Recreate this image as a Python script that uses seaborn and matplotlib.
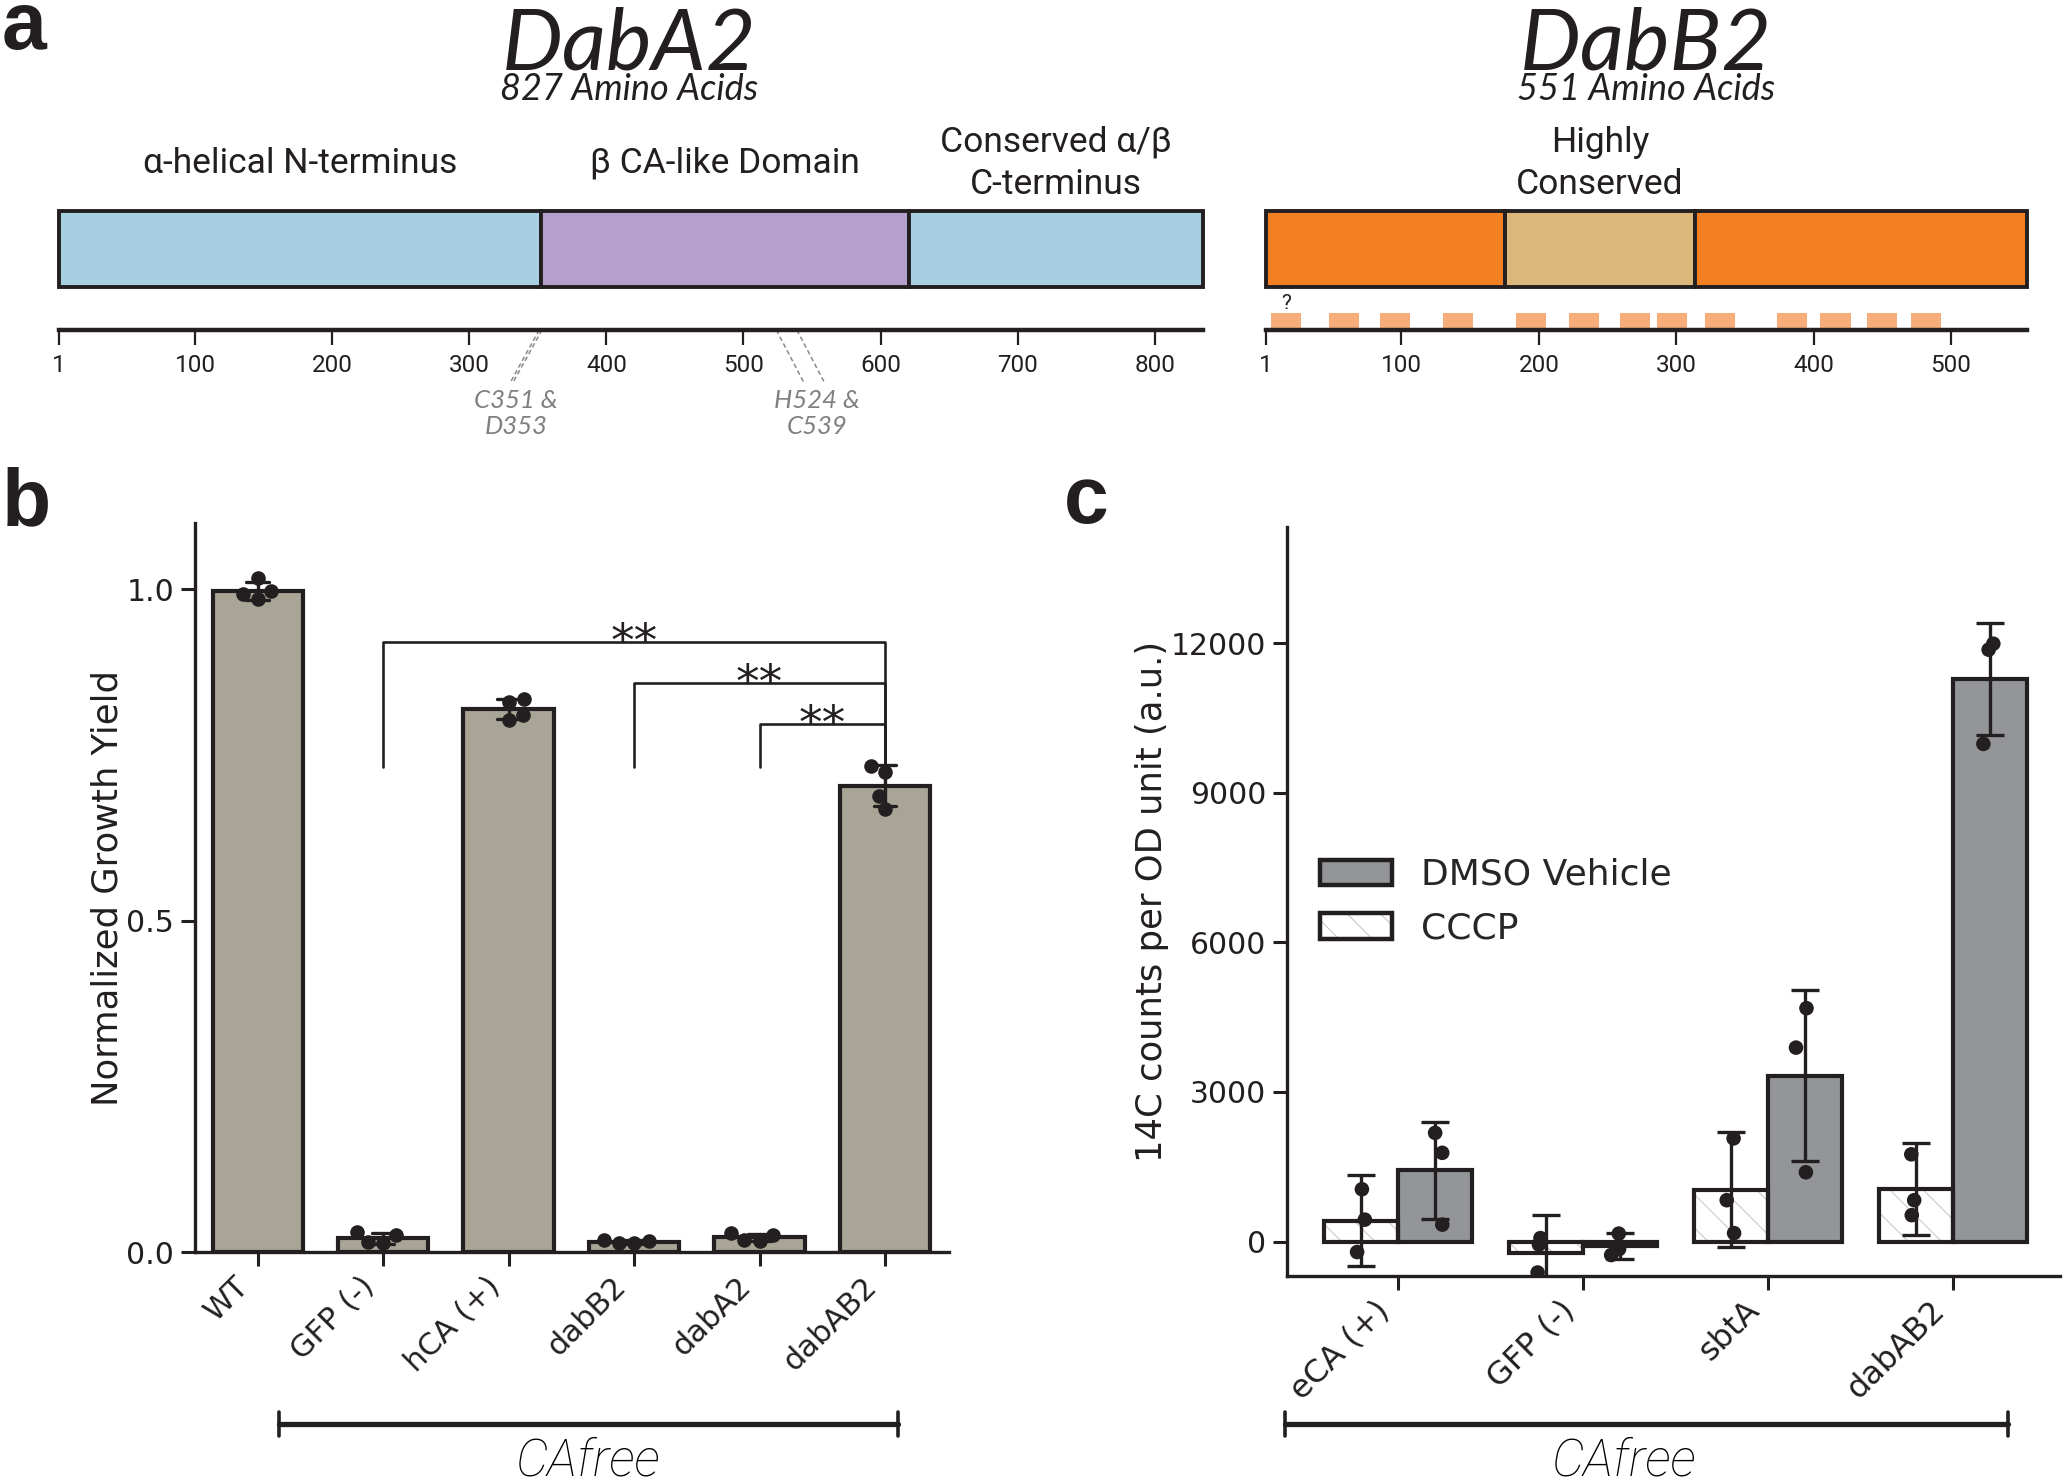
import numpy as np
import pandas as pd
import matplotlib
matplotlib.use('Agg')
import matplotlib.pyplot as plt
import matplotlib.transforms as mtransforms
import seaborn as sns
from matplotlib.lines import Line2D
from matplotlib.patches import Patch, Rectangle

sns.set_style('ticks')
plt.rcParams['font.family'] = ['DejaVu Sans']
plt.rcParams['hatch.linewidth'] = 0.8

DARK = '#231f20'
THIN = ['Roboto', 'DejaVu Sans']
ITAL = ['Lato', 'DejaVu Sans']
ARIAL = ['Liberation Sans', 'DejaVu Sans']

# ---------------- panel a: domain maps ----------------
dabA2_bounds = [1, 352, 621, 835]
dabA2_colors = ['#a7cfe1', '#b4a0cb', '#a7cfe1']
dabA2_labels = ['α-helical N-terminus', 'β CA-like Domain', 'Conserved α/β\nC-terminus']
dabA2_ticks = [1, 100, 200, 300, 400, 500, 600, 700, 800]
dabA2_sites = [[351, 353], [524, 539]]
dabA2_site_labels = ['C351 &\nD353', 'H524 &\nC539']

dabB2_bounds = [1, 175, 314, 555]
dabB2_colors = ['#f27f22', '#dbb77c', '#f27f22']
dabB2_labels = ['', 'Highly\nConserved', '']
dabB2_ticks = [1, 100, 200, 300, 400, 500]
dabB2_tm_starts = [5, 47, 84, 130, 183, 222, 259, 286, 321, 373, 405, 439, 471]
dabB2_tm_width = 22

# ---------------- panel b: growth yield ----------------
strains_b = ['WT', 'GFP (-)', 'hCA (+)', 'dabB2', 'dabA2', 'dabAB2']
yield_reps = [
    [1.017, 0.997, 0.993, 0.985],
    [0.030, 0.015, 0.013, 0.026],
    [0.835, 0.830, 0.810, 0.803],
    [0.018, 0.013, 0.013, 0.016],
    [0.018, 0.016, 0.026, 0.028],
    [0.733, 0.725, 0.688, 0.668],
]
sig_from = [1, 3, 4]
sig_to = [5, 5, 5]
sig_height = [0.920, 0.858, 0.797]
sig_base = 0.732

# ---------------- panel c: 14C uptake ----------------
strains_c = ['eCA (+)', 'GFP (-)', 'sbtA', 'dabAB2']
cccp_mean = [420, -230, 1040, 1050]
cccp_sd = [910, 770, 1150, 920]
dmso_mean = [1430, -85, 3330, 11280]
dmso_sd = [975, 260, 1715, 1130]
cccp_pts = [[1050, 440, -210], [-60, 70, -620], [2070, 830, 170], [1750, 830, 530]]
dmso_pts = [[2180, 1780, 340], [160, -270, -150], [4680, 3890, 1390], [11990, 11870, 9980]]

W, H = 2067, 1481
fig = plt.figure(figsize=(W / 100, H / 100), dpi=100)


def box(l, t, r, b):
    return [l / W, 1 - b / H, (r - l) / W, (b - t) / H]


def fx(px):
    return px / W


def fy(py):
    return 1 - py / H


def domain_map(ax, bounds, colors, labels, ticks):
    starts = bounds[:-1]
    widths = np.diff(bounds)
    ax.barh(3.6, widths, height=6.4, left=starts, align='edge', color=colors,
            edgecolor=DARK, linewidth=2.8, clip_on=False, zorder=3)
    for s, w, lab in zip(starts, widths, labels):
        ax.text(s + w / 2, 14.0, lab, ha='center', va='center', fontsize=25.5,
                family=THIN, linespacing=1.35, color=DARK)
    ax.set_xlim(bounds[0], bounds[-1])
    ax.set_ylim(0, 10)
    ax.set_xticks(ticks)
    ax.set_xticklabels([str(t) for t in ticks], family=THIN)
    ax.set_yticks([])
    for s in ['top', 'left', 'right']:
        ax.spines[s].set_visible(False)
    ax.spines['bottom'].set_linewidth(3.2)
    ax.spines['bottom'].set_color(DARK)
    ax.tick_params(axis='x', direction='out', length=11, width=1.6, labelsize=17.5,
                   pad=6, colors=DARK)
    ax.patch.set_alpha(0)


# panel a left
axA = fig.add_axes(box(59.3, 211, 59.3 + 834 * 1.371, 330))
domain_map(axA, dabA2_bounds, dabA2_colors, dabA2_labels, dabA2_ticks)
site_dx = [-21, 20]
label_dx = [-18, 22]
for sites, lab, dx, ldx in zip(dabA2_sites, dabA2_site_labels, site_dx, label_dx):
    for p in sites:
        axA.plot([p, p + dx], [0, -4.4], ls=(0, (3, 2)), color='#8a8a8a', lw=1.1, clip_on=False)
    axA.text(np.mean(sites) + ldx, -7.05, lab, ha='center', va='center', fontsize=18.5,
             style='italic', family=ITAL, color='#808080', linespacing=1.15)

# panel a right
axB = fig.add_axes(box(1265.5, 211, 1265.5 + 554 * 1.3737, 330))
domain_map(axB, dabB2_bounds, dabB2_colors, dabB2_labels, dabB2_ticks)
axB.barh(0.17, [dabB2_tm_width] * len(dabB2_tm_starts), height=1.26, left=dabB2_tm_starts,
         align='edge', color='#f7ad79', linewidth=0, zorder=1)
axB.text(dabB2_tm_starts[0] + dabB2_tm_width / 2, 2.2, '?', ha='center', va='center',
         fontsize=15, family=THIN, color=DARK)

for x, name, aa in [(629, 'DabA2', '827 Amino Acids'), (1646, 'DabB2', '551 Amino Acids')]:
    fig.text(fx(x), fy(69), name, ha='center', va='baseline', fontsize=62, style='italic',
             family=ITAL, color=DARK)
    fig.text(fx(x), fy(100), aa, ha='center', va='baseline', fontsize=26, style='italic',
             family=ITAL, color=DARK)

# ---------------- panel b ----------------
df_b = pd.DataFrame({
    'strain': [s for s, r in zip(strains_b, yield_reps) for _ in r],
    'yield': [v for r in yield_reps for v in r],
})
axb = fig.add_axes(box(195, 523, 949, 1252))
sns.barplot(data=df_b, x='strain', y='yield', order=strains_b, color='#a8a596',
            saturation=1, edgecolor=DARK, linewidth=3.0, errorbar='sd', capsize=0.18,
            err_kws={'color': DARK, 'linewidth': 2.4}, width=0.72, ax=axb)
sns.swarmplot(data=df_b, x='strain', y='yield', order=strains_b, color=DARK, size=10.5, ax=axb)
for c in axb.collections:
    c.set_zorder(4)
for x1, x2, h in zip(sig_from, sig_to, sig_height):
    axb.plot([x1, x1, x2, x2], [sig_base, h, h, sig_base], color=DARK, lw=1.9, zorder=5)
    axb.text((x1 + x2) / 2, h - 0.021, '**', ha='center', va='baseline', fontsize=34, color=DARK)
axb.set_xlim(-0.5, 5.51)
axb.set_ylim(0, 1.10)
axb.set_yticks([0, 0.5, 1.0])
axb.set_yticklabels(['0.0', '0.5', '1.0'])
axb.set_xlabel('')
axb.set_ylabel('Normalized Growth Yield', fontsize=25.5, labelpad=1.5, color=DARK)

# ---------------- panel c ----------------
df_c = pd.DataFrame({
    'strain': strains_c * 2,
    'treatment': ['CCCP'] * 4 + ['DMSO Vehicle'] * 4,
    'value': cccp_mean + dmso_mean,
})
df_cp = pd.DataFrame({
    'strain': [s for s, r in zip(strains_c, cccp_pts) for _ in r]
              + [s for s, r in zip(strains_c, dmso_pts) for _ in r],
    'treatment': ['CCCP'] * 12 + ['DMSO Vehicle'] * 12,
    'value': [v for r in cccp_pts for v in r] + [v for r in dmso_pts for v in r],
})
hue_order = ['CCCP', 'DMSO Vehicle']
axc = fig.add_axes(box(1287, 527, 2060, 1276))
sns.barplot(data=df_c, x='strain', y='value', hue='treatment', hue_order=hue_order,
            order=strains_c, palette={'CCCP': 'white', 'DMSO Vehicle': '#939598'},
            saturation=1, edgecolor=DARK, linewidth=3.0, errorbar=None, width=0.8,
            legend=False, ax=axc)
# hatch for CCCP bars: light hatch underneath a dark outline
for bar in axc.containers[0]:
    bar.set_edgecolor('#c9c9c9')
    bar.set_hatch('\\')
    bar.set_linewidth(0)
    axc.add_patch(Rectangle((bar.get_x(), bar.get_y()), bar.get_width(), bar.get_height(),
                            fill=False, edgecolor=DARK, linewidth=3.0, zorder=2))
for cont, means, sds in zip(axc.containers[:2], [cccp_mean, dmso_mean], [cccp_sd, dmso_sd]):
    xs = [b.get_x() + b.get_width() / 2 for b in cont]
    axc.errorbar(xs, means, yerr=sds, fmt='none', ecolor=DARK, elinewidth=2.4,
                 capsize=10, capthick=2.4, zorder=3)
np.random.seed(3)
sns.stripplot(data=df_cp, x='strain', y='value', hue='treatment', hue_order=hue_order,
              order=strains_c, dodge=True, jitter=0.1, palette={'CCCP': DARK, 'DMSO Vehicle': DARK},
              size=10.5, legend=False, ax=axc)
for c in axc.collections:
    c.set_zorder(4)
axc.set_xlim(-0.6, 3.58)
axc.set_ylim(-690, 14330)
axc.set_yticks([0, 3000, 6000, 9000, 12000])
axc.set_xlabel('')
axc.set_ylabel('14C counts per OD unit (a.u.)', fontsize=25.5, labelpad=1.5, color=DARK)
handles = [Patch(facecolor='#939598', edgecolor=DARK, linewidth=3.2),
           (Patch(facecolor='white', edgecolor='#c9c9c9', hatch='\\', linewidth=0),
            Patch(fill=False, edgecolor=DARK, linewidth=3.2))]
fig.legend(handles, ['DMSO Vehicle', 'CCCP'], loc='upper left',
           bbox_to_anchor=(fx(1320), fy(858)), frameon=False, fontsize=26,
           handlelength=2.0, handleheight=0.72, handletextpad=0.8, labelspacing=0.55,
           borderpad=0, borderaxespad=0)

shift = mtransforms.ScaledTranslation(-13 / 100, -9 / 100, fig.dpi_scale_trans)
for ax, fs in [(axb, 22), (axc, 23)]:
    sns.despine(ax=ax)
    for s in ['left', 'bottom']:
        ax.spines[s].set_linewidth(2.4)
        ax.spines[s].set_color(DARK)
    ax.tick_params(direction='out', length=10, width=2.2, labelsize=21.5, colors=DARK, pad=5)
    for t in ax.get_xticklabels():
        t.set_rotation(45)
        t.set_ha('right')
        t.set_va('center')
        t.set_rotation_mode('anchor')
        t.set_fontsize(fs)
        t.set_transform(t.get_transform() + shift)

# CAfree brackets
for x0, x1, xt in [(279, 898, 587), (1285, 2008, 1623)]:
    fig.add_artist(Line2D([fx(x0), fx(x1)], [fy(1424), fy(1424)], color=DARK, lw=3.8))
    for xe in (x0, x1):
        fig.add_artist(Line2D([fx(xe), fx(xe)], [fy(1412), fy(1436)], color=DARK, lw=2.6))
    fig.text(fx(xt), fy(1476), 'CAfree', ha='center', va='baseline', fontsize=37, style='italic',
             family=THIN, fontweight='light', color='#000000')

# panel letters
for x, y, letter in [(2, 49, 'a'), (2, 525, 'b'), (1064, 523, 'c')]:
    fig.text(fx(x), fy(y), letter, ha='left', va='baseline', fontsize=58, fontweight='bold',
             family=ARIAL, color=DARK)

fig.savefig('out.png', dpi=100)
